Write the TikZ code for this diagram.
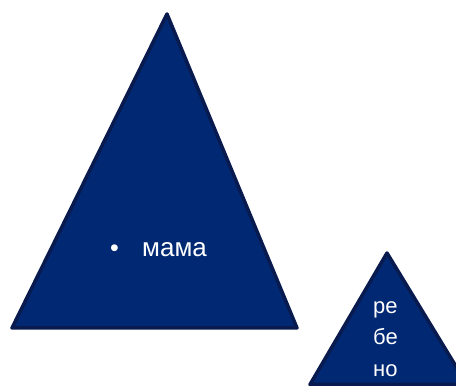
\documentclass[tikz,border=0pt]{standalone}
\usepackage{fontspec}
\setmainfont{Liberation Sans}
\definecolor{trifill}{RGB}{0,40,115}
\definecolor{tristroke}{RGB}{8,26,78}
\begin{document}
\begin{tikzpicture}[x=1pt,y=1pt,
  tri/.style={fill=trifill,draw=tristroke,line width=3.5pt,line join=round},
  lbl/.style={text=white,inner sep=0pt,anchor=base west}]
\useasboundingbox (0,0) rectangle (456,386);
\clip (0,0) rectangle (456,386);
% big triangle
\draw[tri] (167,372) -- (297,58) -- (12,58) -- cycle;
% small triangle
\draw[tri] (387,133) -- (467,1.5) -- (310,1.5) -- cycle;
\node[lbl,font=\fontsize{25}{29}\selectfont] (bul) at (110,129) {•};
\node[lbl,font=\fontsize{26}{30}\selectfont] (mama) at (142,129) {мама};
\node[lbl,font=\fontsize{22}{31}\selectfont] (re) at (373,72) {ре};
\node[lbl,font=\fontsize{22}{31}\selectfont] (be) at (373,41) {бе};
\node[lbl,font=\fontsize{22}{31}\selectfont] (no) at (373,9) {но};
\end{tikzpicture}
\end{document}
